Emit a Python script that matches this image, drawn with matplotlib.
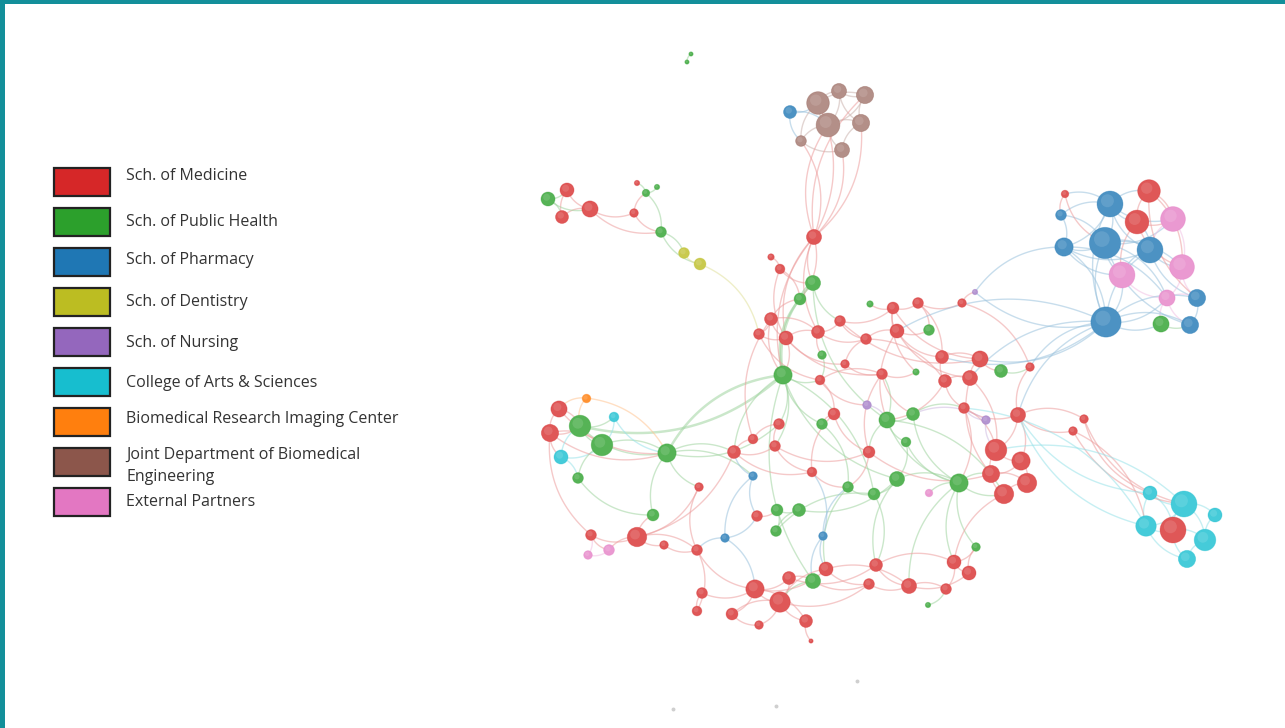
import matplotlib.pyplot as plt
import numpy as np
from matplotlib.collections import LineCollection
from matplotlib.patches import Rectangle
from matplotlib.colors import to_rgb

plt.rcParams['font.family'] = ['Open Sans', 'DejaVu Sans']

# legend
legend_labels = ['Sch. of Medicine', 'Sch. of Public Health', 'Sch. of Pharmacy',
                 'Sch. of Dentistry', 'Sch. of Nursing', 'College of Arts & Sciences',
                 'Biomedical Research Imaging Center',
                 'Joint Department of Biomedical\nEngineering', 'External Partners']
legend_colors = ['#d62728', '#2ca02c', '#1f77b4', '#bcbd22', '#9467bd',
                 '#17becf', '#ff7f0e', '#8c564b', '#e377c2']

# nodes per unit: id -> (x, y, weight), layout in image pixels
medicine = {
    'm1': (814, 237, 7), 'm2': (567, 190, 6.5), 'm3': (562, 217, 6), 'm4': (590, 209, 7.5),
    'm5': (634, 213, 4), 'm6': (637, 183, 2.5), 'm7': (771, 257, 3), 'm8': (780, 269, 4.5),
    'm9': (893, 308, 5.5), 'm10': (918, 303, 5), 'm11': (962, 303, 4), 'm12': (771, 319, 6),
    'm13': (759, 334, 5), 'm14': (786, 338, 6.5), 'm15': (840, 321, 5), 'm16': (818, 332, 6),
    'm17': (866, 339, 5), 'm18': (897, 331, 6.5), 'm19': (845, 364, 4), 'm20': (820, 380, 4.5),
    'm21': (882, 374, 5), 'm22': (942, 357, 6), 'm23': (980, 359, 7.5), 'm24': (945, 381, 6),
    'm25': (970, 378, 7), 'm26': (1030, 367, 4), 'm27': (834, 414, 5.5), 'm28': (964, 408, 5),
    'm29': (1018, 415, 7), 'm30': (1084, 419, 4), 'm31': (1073, 431, 4), 'm32': (869, 452, 5.5),
    'm33': (812, 472, 4.5), 'm34': (996, 450, 10), 'm35': (1021, 461, 8.5), 'm36': (991, 474, 8),
    'm37': (1027, 483, 9), 'm38': (1004, 494, 9), 'm39': (779, 424, 5), 'm40': (753, 439, 4.5),
    'm41': (775, 446, 5), 'm42': (734, 452, 6), 'm43': (699, 487, 4), 'm44': (757, 516, 5),
    'm45': (559, 409, 7.5), 'm46': (550, 433, 8), 'm47': (591, 535, 5), 'm48': (637, 537, 9),
    'm49': (664, 545, 4), 'm50': (697, 550, 5), 'm51': (954, 562, 6.5), 'm52': (969, 573, 6.5),
    'm53': (876, 565, 6), 'm54': (826, 569, 6.5), 'm55': (869, 584, 5), 'm56': (909, 586, 7),
    'm57': (946, 589, 5), 'm58': (789, 578, 6), 'm59': (755, 589, 8.5), 'm60': (780, 602, 9.5),
    'm61': (702, 593, 5), 'm62': (697, 611, 4.5), 'm63': (732, 614, 5.5), 'm64': (759, 625, 4),
    'm65': (806, 621, 6), 'm66': (811, 641, 2), 'm67': (1065, 194, 3.5), 'm68': (1149, 191, 10.5),
    'm69': (1137, 222, 11), 'm70': (1173, 530, 12),
}
public_health = {
    'g1': (691, 54, 2), 'g2': (687, 62, 2), 'g3': (548, 199, 6.5), 'g4': (646, 193, 3.5),
    'g5': (657, 187, 2.5), 'g6': (661, 232, 5), 'g7': (813, 283, 7), 'g8': (800, 299, 5.5),
    'g9': (870, 304, 3), 'g10': (929, 330, 5), 'g11': (822, 355, 4), 'g12': (783, 375, 8.5),
    'g13': (916, 372, 3), 'g14': (1001, 371, 6), 'g15': (822, 424, 5), 'g16': (887, 420, 7.5),
    'g17': (913, 414, 6), 'g18': (906, 442, 4.5), 'g19': (848, 487, 5), 'g20': (874, 494, 5.5),
    'g21': (897, 479, 7), 'g22': (959, 483, 8.5), 'g23': (580, 426, 10), 'g24': (602, 445, 10),
    'g25': (578, 478, 5), 'g26': (667, 453, 8.5), 'g27': (653, 515, 5.5), 'g28': (777, 510, 5.5),
    'g29': (799, 510, 6), 'g30': (776, 531, 5), 'g31': (976, 547, 4), 'g32': (928, 605, 2.5),
    'g33': (813, 581, 7), 'g34': (1161, 324, 7.5),
}
pharmacy = {
    'b1': (790, 112, 6), 'b2': (753, 476, 4), 'b3': (725, 538, 4), 'b4': (823, 536, 4),
    'b5': (1110, 204, 12), 'b6': (1061, 215, 5), 'b7': (1064, 247, 8.5), 'b8': (1105, 243, 14.5),
    'b9': (1150, 250, 12), 'b10': (1197, 298, 8), 'b11': (1106, 322, 14), 'b12': (1190, 325, 8),
}
dentistry = {'y1': (684, 253, 5), 'y2': (700, 264, 5.5)}
nursing = {'n1': (975, 292, 2.5), 'n2': (867, 405, 4), 'n3': (986, 420, 4)}
arts_sciences = {
    'c1': (614, 417, 4.5), 'c2': (561, 457, 6.5), 'c3': (1150, 493, 6.5), 'c4': (1184, 504, 12),
    'c5': (1215, 515, 6.5), 'c6': (1146, 526, 9.5), 'c7': (1205, 540, 10), 'c8': (1187, 559, 8),
}
imaging_center = {'o1': (586, 398, 4)}
biomed_eng = {
    'd1': (818, 103, 10.5), 'd2': (839, 91, 7), 'd3': (865, 95, 8), 'd4': (828, 125, 11),
    'd5': (861, 123, 8), 'd6': (801, 141, 5), 'd7': (842, 150, 7),
}
external = {
    'p1': (1173, 219, 11.5), 'p2': (1182, 267, 11.5), 'p3': (1122, 275, 12), 'p4': (1167, 298, 7.5),
    'p5': (929, 493, 3.5), 'p6': (609, 550, 5), 'p7': (588, 555, 4),
}
unassigned = {'x1': (673, 709, 2), 'x2': (776, 706, 2), 'x3': (857, 681, 2)}

units = [medicine, public_health, pharmacy, dentistry, nursing,
         arts_sciences, imaging_center, biomed_eng, external]

edges = [
    # biomedical engineering cluster
    ('d1', 'd2'), ('d1', 'd4'), ('b1', 'd1'), ('b1', 'd4'), ('d2', 'd3'), ('d3', 'd5'),
    ('d4', 'd5'), ('d4', 'd2'), ('d1', 'd6'), ('d6', 'd4'), ('d4', 'd7'), ('d5', 'd7'),
    ('d3', 'd4'), ('d2', 'd5'), ('b1', 'd6'), ('d1', 'd3'), ('d6', 'd7'),
    ('m1', 'd6'), ('m1', 'd4'), ('m1', 'd7'), ('m1', 'd5'), ('m1', 'd3'), ('m1', 'd1'),
    # upper left
    ('g3', 'm2'), ('g3', 'm3'), ('m2', 'm3'), ('m2', 'm4'), ('m3', 'm4'), ('g3', 'm4'),
    ('m4', 'm5'), ('m5', 'g4'), ('g4', 'm6'), ('g4', 'g5'), ('g4', 'g6'), ('m5', 'g6'),
    ('m4', 'g6'), ('g6', 'y1'), ('g6', 'y2'), ('y1', 'y2'), ('y2', 'm13'), ('g1', 'g2'),
    # top of core
    ('m1', 'g7'), ('m1', 'g8'), ('m1', 'm14'), ('m1', 'm16'), ('m7', 'm8'), ('m8', 'g7'),
    ('m8', 'm14'), ('m8', 'g8'), ('g7', 'g8'), ('g7', 'm15'), ('m12', 'g8'), ('g8', 'g12'),
    ('g7', 'g12'), ('m12', 'm13'), ('m12', 'm14'), ('m13', 'm14'), ('m14', 'm16'),
    ('m16', 'm15'), ('m15', 'm9'), ('m9', 'g9'), ('m9', 'm10'), ('m10', 'm11'), ('m11', 'n1'),
    ('m9', 'm18'), ('m15', 'm17'), ('m17', 'm18'), ('m16', 'm17'), ('m18', 'g10'),
    ('m10', 'g10'), ('m17', 'm19'), ('m16', 'g11'), ('g11', 'm20'), ('m19', 'm21'),
    ('m18', 'm22'), ('m22', 'm23'), ('m22', 'm24'), ('m23', 'm25'), ('m24', 'm25'),
    ('m23', 'g14'), ('g14', 'm26'), ('m11', 'm26'), ('m24', 'm28'), ('m28', 'm29'),
    ('m29', 'm30'), ('m29', 'm31'), ('m26', 'm29'), ('m12', 'm16'), ('m14', 'm21'),
    ('m15', 'm23'), ('m10', 'm22'), ('m9', 'g13'), ('m21', 'g13'), ('m20', 'm21'),
    ('m14', 'm19'), ('m13', 'm20'), ('m17', 'm24'), ('m9', 'm23'), ('m18', 'm25'),
    # links to pharmacy cluster
    ('b11', 'n1'), ('b7', 'n1'), ('b11', 'm26'), ('b11', 'm23'), ('b11', 'm25'),
    ('b11', 'm29'), ('b11', 'm22'), ('b11', 'm18'),
    # green hub
    ('m12', 'g12'), ('m14', 'g12'), ('g12', 'm20'), ('g12', 'g26'), ('g12', 'g23'),
    ('g12', 'm42'), ('g12', 'g33'), ('g12', 'm39'), ('g12', 'g15'), ('g12', 'g21'),
    ('g12', 'g20'), ('g7', 'g16'), ('m1', 'g12'), ('g12', 'm41'),
    # left cluster
    ('o1', 'm45'), ('o1', 'g23'), ('m45', 'g23'), ('m45', 'm46'), ('m46', 'g23'),
    ('m46', 'g24'), ('g23', 'g24'), ('g23', 'c1'), ('c1', 'g24'), ('m46', 'c2'),
    ('c2', 'g24'), ('c2', 'g25'), ('g24', 'g25'), ('g23', 'g26'), ('g24', 'g26'),
    ('c1', 'g26'), ('m45', 'g26'), ('g26', 'm42'), ('g26', 'm43'), ('g26', 'g27'),
    ('g26', 'b2'), ('g25', 'g27'), ('g26', 'm39'), ('o1', 'g26'), ('m46', 'g26'),
    ('m46', 'm47'), ('c2', 'g23'),
    # centre
    ('m27', 'm20'), ('m27', 'g15'), ('n2', 'g16'), ('g16', 'g17'), ('g16', 'g18'),
    ('g17', 'm28'), ('g16', 'm21'), ('g16', 'm32'), ('g18', 'g21'), ('g18', 'g22'),
    ('g17', 'g22'), ('m32', 'g19'), ('g19', 'g20'), ('g20', 'g21'), ('g21', 'g22'),
    ('g22', 'p5'), ('g22', 'm38'), ('g22', 'm36'), ('g22', 'g31'), ('g22', 'm56'),
    ('g20', 'm53'), ('g19', 'm54'), ('m33', 'g19'), ('m33', 'm41'), ('m39', 'm40'),
    ('m40', 'm42'), ('m41', 'm42'), ('m39', 'm41'), ('b2', 'm44'), ('b2', 'm42'),
    ('m44', 'g28'), ('g28', 'g29'), ('g28', 'g30'), ('g29', 'g30'), ('g29', 'g21'),
    ('g30', 'g20'), ('b4', 'g33'), ('b4', 'm54'), ('b4', 'g19'), ('b3', 'm50'),
    ('b3', 'm44'), ('b3', 'm59'), ('m43', 'm50'), ('g16', 'g22'), ('g16', 'm38'),
    ('m27', 'm32'), ('m20', 'n2'), ('m32', 'm21'), ('g21', 'm53'), ('g22', 'm51'),
    ('m24', 'g16'), ('m18', 'g16'), ('m21', 'g17'), ('b3', 'b2'), ('b4', 'm33'),
    ('m27', 'm33'), ('m40', 'm12'), ('m42', 'm33'), ('m32', 'm36'), ('m28', 'g22'),
    ('n3', 'g17'), ('m41', 'm32'), ('g15', 'g19'),
    # bottom right red cluster
    ('m34', 'm35'), ('m34', 'm36'), ('m35', 'm37'), ('m36', 'm38'), ('m37', 'm38'),
    ('m36', 'm37'), ('m34', 'm29'), ('m34', 'm28'), ('n3', 'm28'), ('n3', 'm34'),
    ('m34', 'm25'), ('m36', 'm25'), ('m35', 'm29'), ('m38', 'm51'), ('m35', 'm36'),
    # bottom
    ('m47', 'm48'), ('m47', 'p6'), ('p6', 'p7'), ('p7', 'm47'), ('m48', 'p6'),
    ('m48', 'g27'), ('m48', 'm49'), ('m49', 'm50'), ('m48', 'm50'), ('m48', 'm42'),
    ('m50', 'm59'), ('m50', 'm62'), ('m61', 'm62'), ('m61', 'm59'), ('m59', 'm63'),
    ('m59', 'm60'), ('m60', 'm58'), ('m58', 'g33'), ('g33', 'm60'), ('m60', 'm63'),
    ('m60', 'm64'), ('m60', 'm65'), ('m65', 'm66'), ('m60', 'm54'), ('m54', 'm55'),
    ('m55', 'm56'), ('m56', 'm57'), ('m57', 'm51'), ('m51', 'm52'), ('m52', 'g31'),
    ('m51', 'g31'), ('m53', 'm56'), ('m55', 'g33'), ('m58', 'm53'), ('m65', 'm59'),
    ('m54', 'm56'), ('m56', 'm52'), ('g32', 'm57'), ('m53', 'm51'), ('m63', 'm64'),
    ('m59', 'm58'), ('m43', 'm48'), ('m59', 'm54'), ('m60', 'm55'),
    # pharmacy / partners cluster
    ('b5', 'b8'), ('b5', 'b6'), ('b5', 'm67'), ('b6', 'b7'), ('b7', 'b8'), ('b5', 'm69'),
    ('b5', 'm68'), ('b5', 'p1'), ('m68', 'm69'), ('m68', 'p1'), ('m69', 'p1'),
    ('b9', 'm69'), ('b8', 'b9'), ('b8', 'p3'), ('b8', 'b11'), ('b7', 'b11'), ('b9', 'p2'),
    ('b9', 'p3'), ('p1', 'p2'), ('b9', 'b10'), ('p2', 'b10'), ('p2', 'p4'), ('p3', 'p4'),
    ('b11', 'p3'), ('p4', 'b10'), ('p4', 'g34'), ('p4', 'b12'), ('b10', 'b12'),
    ('b11', 'g34'), ('g34', 'b12'), ('b11', 'b12'), ('b8', 'p1'), ('b7', 'p3'),
    ('b6', 'b8'), ('m67', 'b6'), ('m67', 'b8'), ('b11', 'b9'), ('b7', 'b5'), ('b8', 'b12'),
    ('b11', 'b10'), ('m69', 'p3'), ('m69', 'p2'), ('m68', 'p2'), ('p1', 'b9'),
    ('b11', 'p4'), ('b7', 'p4'), ('b5', 'b9'), ('m68', 'b10'), ('b8', 'p2'),
    ('b7', 'b9'), ('b5', 'b11'), ('b8', 'p4'),
    # arts & sciences cluster
    ('c3', 'c4'), ('c3', 'c6'), ('c4', 'c5'), ('c4', 'm70'), ('c6', 'm70'), ('c4', 'c7'),
    ('c5', 'c7'), ('c7', 'm70'), ('c8', 'm70'), ('c6', 'c8'), ('c7', 'c8'), ('c3', 'm70'),
    ('c6', 'c4'), ('m30', 'c3'), ('m31', 'c6'), ('m31', 'c4'), ('m30', 'c4'),
    ('c3', 'm29'), ('c6', 'm28'), ('c4', 'm34'), ('c6', 'm29'),
]

# lookups
pos = {}
unit_of = {}
for k, unit in enumerate(units):
    for nid, (x, y, w) in unit.items():
        pos[nid] = np.array([x, y], dtype=float)
        unit_of[nid] = k


def lighten(c, f):
    r = np.array(to_rgb(c))
    return tuple(r * f + (1 - f))


node_mix = [0.78, 0.8, 0.8, 0.8, 0.7, 0.8, 0.85, 0.66, 0.75]

fig = plt.figure(figsize=(12.85, 7.28), dpi=100)
ax = fig.add_axes([0, 0, 1, 1])
ax.set_xlim(0, 1285)
ax.set_ylim(728, 0)
ax.axis('off')

# curved edges
segs, cols, lws = [], [], []
t = np.linspace(0, 1, 40)[:, None]
for i, (a, b) in enumerate(edges):
    p0, p2 = pos[a], pos[b]
    d = p2 - p0
    n = np.array([-d[1], d[0]])
    sign = 1 if (i % 3) else -1
    p1 = (p0 + p2) / 2 + sign * 0.26 * n
    curve = (1 - t) ** 2 * p0 + 2 * (1 - t) * t * p1 + t ** 2 * p2
    segs.append(curve)
    c = legend_colors[unit_of[a]]
    cols.append(lighten(c, 0.45) + (0.55,))
    lws.append(1.8 if a in ('g7', 'g8', 'g12') and b in ('g12', 'g26', 'g23') else 1.0)
ax.add_collection(LineCollection(segs, colors=cols, linewidths=lws, zorder=1))

# nodes
for k, unit in enumerate(units):
    xs = np.array([v[0] for v in unit.values()])
    ys = np.array([v[1] for v in unit.values()])
    rs = np.array([v[2] for v in unit.values()]) * 1.08
    face = lighten(legend_colors[k], node_mix[k])
    edge = lighten(legend_colors[k], 1.0)
    ax.scatter(xs, ys, s=(2 * rs * 0.72) ** 2, color=face, edgecolors=edge + (0.35,),
               linewidths=0.6, zorder=3)
    # soft highlight for the sphere look
    ax.scatter(xs - rs * 0.2, ys - rs * 0.25, s=(rs * 0.72) ** 2,
               color=(1, 1, 1, 0.12), linewidths=0, zorder=4)

ux = [v[0] for v in unassigned.values()]
uy = [v[1] for v in unassigned.values()]
ax.scatter(ux, uy, s=8, color='#b0b0b0', alpha=0.6, linewidths=0, zorder=3)

# legend
box_y = [181.5, 222, 261.5, 301.5, 341.5, 381.5, 421.5, 461.5, 501.5]
text_y = [176, 222, 260, 301.5, 343, 383, 419, 466, 501.5]
for k, label in enumerate(legend_labels):
    ax.add_patch(Rectangle((54, box_y[k] - 14), 56, 28, facecolor=legend_colors[k],
                           edgecolor='#222222', linewidth=1.6, zorder=5))
    ax.text(126, text_y[k], label, fontsize=11.5, color='#333333', va='center', ha='left',
            linespacing=1.42, zorder=5)

# frame strips (top and left)
fig.patches.append(Rectangle((0, 1 - 4 / 728), 1, 4 / 728, transform=fig.transFigure,
                             facecolor='#138f9a', edgecolor='none'))
fig.patches.append(Rectangle((0, 0), 5 / 1285, 1, transform=fig.transFigure,
                             facecolor='#138f9a', edgecolor='none'))

fig.savefig('out.png', dpi=100)
